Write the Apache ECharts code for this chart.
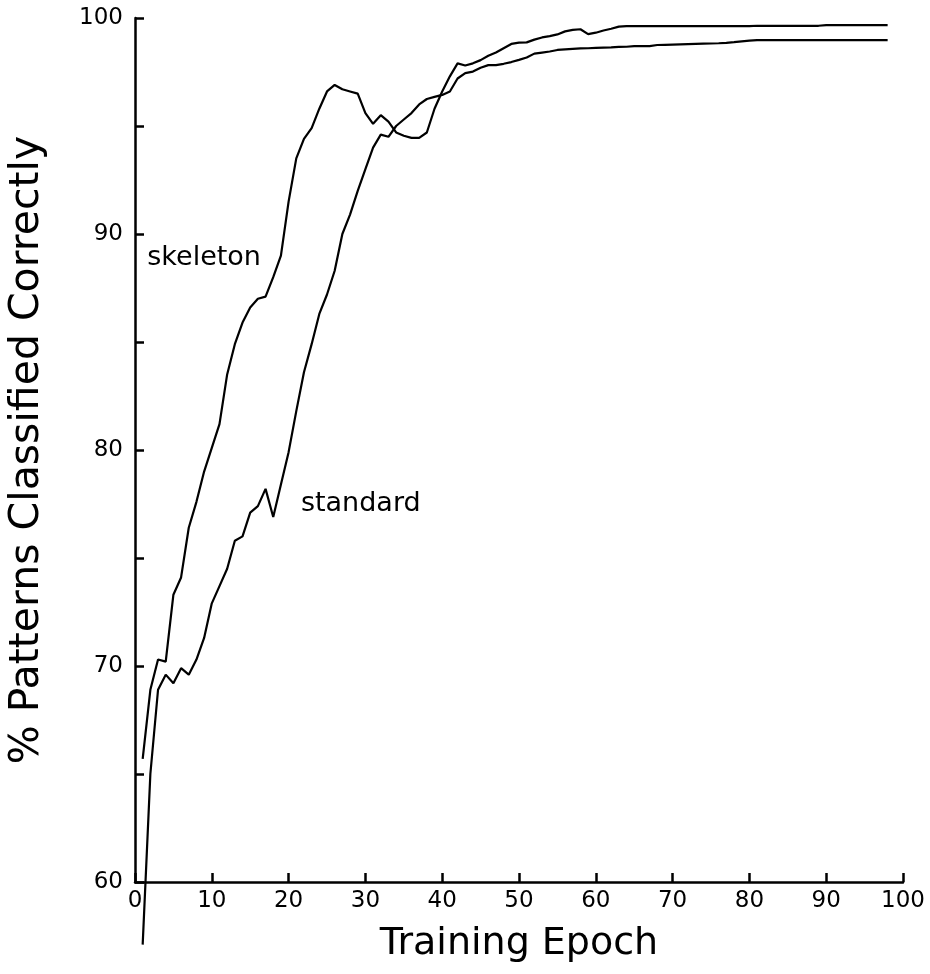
<!DOCTYPE html>
<html>
<head>
<meta charset="utf-8">
<script src="https://cdn.jsdelivr.net/npm/echarts@6/dist/echarts.min.js"></script>
<style>
  html, body { margin: 0; padding: 0; background: #fff; }
  #chart { width: 930px; height: 974px; }
</style>
</head>
<body>
<div id="chart"></div>
<script>
// epochs 1..98
const epochs = [];
for (let i = 1; i <= 98; i++) epochs.push(i);

const skeleton = [
  65.7, 68.9, 70.3, 70.2, 73.3, 74.1, 76.4, 77.6, 79.0, 80.1,
  81.2, 83.5, 84.9, 85.9, 86.6, 87.0, 87.1, 88.0, 89.0, 91.5,
  93.5, 94.4, 94.9, 95.8, 96.6, 96.9, 96.7, 96.6, 96.5, 95.6,
  95.1, 95.5, 95.2, 94.7, 94.55, 94.45, 94.45, 94.7, 95.8, 96.6,
  97.3, 97.9, 97.8, 97.9, 98.05, 98.25, 98.4, 98.6, 98.8, 98.86,
  98.87, 99.0, 99.1, 99.16, 99.24, 99.38, 99.45, 99.48, 99.25, 99.32,
  99.42, 99.5, 99.6, 99.62, 99.62, 99.62, 99.62, 99.62, 99.62, 99.62,
  99.62, 99.62, 99.62, 99.62, 99.62, 99.62, 99.62, 99.62, 99.62, 99.62,
  99.64, 99.64, 99.64, 99.64, 99.64, 99.64, 99.64, 99.64, 99.64, 99.67,
  99.67, 99.67, 99.67, 99.67, 99.67, 99.67, 99.67, 99.67
];

const standard = [
  57.1, 65.0, 68.9, 69.6, 69.2, 69.9, 69.6, 70.3, 71.3, 72.9,
  73.7, 74.5, 75.8, 76.0, 77.1, 77.4, 78.2, 76.9, 78.4, 79.9,
  81.8, 83.6, 84.9, 86.3, 87.2, 88.3, 90.0, 90.9, 92.0, 93.0,
  94.0, 94.6, 94.5, 95.0, 95.3, 95.6, 96.0, 96.25, 96.35, 96.44,
  96.6, 97.2, 97.45, 97.52, 97.7, 97.82, 97.82, 97.88, 97.96, 98.06,
  98.17, 98.35, 98.4, 98.45, 98.52, 98.55, 98.57, 98.59, 98.6, 98.62,
  98.63, 98.64, 98.66, 98.67, 98.7, 98.7, 98.7, 98.75, 98.76, 98.77,
  98.78, 98.79, 98.8, 98.81, 98.82, 98.83, 98.85, 98.88, 98.92, 98.95,
  98.98, 98.98, 98.98, 98.98, 98.98, 98.98, 98.98, 98.98, 98.98, 98.98,
  98.98, 98.98, 98.98, 98.98, 98.98, 98.98, 98.98, 98.98
];

// curve labels, in data coordinates
const curveLabels = [
  { name: 'skeleton', at: [1.6, 88.9] },
  { name: 'standard', at: [21.6, 77.5] }
];

const font = 'DejaVu Sans';

const chart = echarts.init(document.getElementById('chart'));

chart.setOption({
  backgroundColor: '#fff',
  animation: false,
  grid: { left: 135, right: 27, top: 18, bottom: 92, outerBoundsMode: 'none', containLabel: false },
  xAxis: {
    type: 'value',
    min: 0,
    max: 100,
    interval: 10,
    name: 'Training Epoch',
    nameLocation: 'middle',
    nameGap: 43,
    nameTextStyle: { color: '#000', fontSize: 38, fontFamily: font },
    axisLine: { lineStyle: { color: '#000', width: 2.5 } },
    axisTick: { inside: true, length: 9, lineStyle: { color: '#000', width: 2.5 } },
    axisLabel: { color: '#000', fontSize: 23, fontFamily: font, margin: 8 },
    splitLine: { show: false }
  },
  yAxis: {
    type: 'value',
    min: 60,
    max: 100,
    interval: 5,
    name: '% Patterns Classified Correctly',
    nameLocation: 'middle',
    nameGap: 87,
    nameTextStyle: { color: '#000', fontSize: 41, fontFamily: font },
    axisLine: { lineStyle: { color: '#000', width: 2.5 } },
    axisTick: { inside: true, length: 9, lineStyle: { color: '#000', width: 2.5 } },
    axisLabel: {
      color: '#000',
      fontSize: 23,
      fontFamily: font,
      margin: 12,
      formatter: function (v) { return v % 10 === 0 ? String(v) : ''; }
    },
    splitLine: { show: false }
  },
  series: [
    {
      name: 'skeleton',
      type: 'line',
      data: epochs.map((e, i) => [e, skeleton[i]]),
      showSymbol: false,
      clip: false,
      lineStyle: { color: '#000', width: 2.2 }
    },
    {
      name: 'standard',
      type: 'line',
      data: epochs.map((e, i) => [e, standard[i]]),
      showSymbol: false,
      clip: false,
      lineStyle: { color: '#000', width: 2.2 }
    },
    {
      type: 'scatter',
      symbolSize: 0,
      itemStyle: { opacity: 1 },
      data: curveLabels.map(d => ({ value: d.at, name: d.name })),
      label: {
        show: true,
        position: 'right',
        distance: 0,
        formatter: p => p.name,
        color: '#000',
        opacity: 1,
        fontSize: 27,
        fontFamily: font
      }
    }
  ]
});
</script>
</body>
</html>
